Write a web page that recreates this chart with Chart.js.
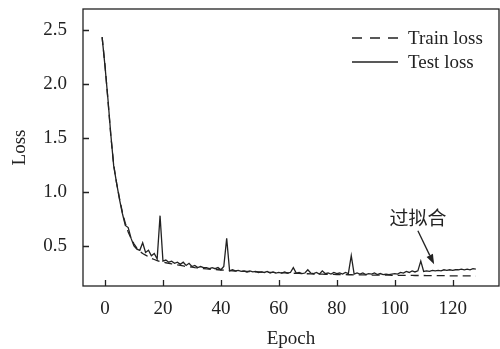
<!DOCTYPE html>
<html>
<head>
<meta charset="utf-8">
<script src="https://cdn.jsdelivr.net/npm/chart.js@4/dist/chart.umd.min.js"></script>
<style>
  html, body { margin: 0; padding: 0; background: #fff; }
</style>
</head>
<body>
<canvas id="lossChart" width="500" height="349"></canvas>
<script>
// Epochs run from -1 to 128 (first point sits just left of the 0 tick)
const firstEpoch = -1;

const trainLoss = [
  2.43, 2.17, 1.85, 1.52, 1.25, 1.08, 0.94, 0.81, 0.71, 0.63,
  0.57, 0.52, 0.48, 0.45, 0.43, 0.415, 0.40, 0.385, 0.375, 0.365,
  0.355, 0.35, 0.345, 0.34, 0.335, 0.33, 0.325, 0.32, 0.315, 0.31,
  0.307, 0.304, 0.30, 0.297, 0.294, 0.291, 0.288, 0.286, 0.284, 0.282,
  0.28, 0.278, 0.276, 0.274, 0.272, 0.27, 0.268, 0.267, 0.266, 0.265,
  0.264, 0.263, 0.262, 0.261, 0.26, 0.259, 0.258, 0.257, 0.256, 0.255,
  0.254, 0.253, 0.252, 0.251, 0.25, 0.249, 0.248, 0.247, 0.246, 0.245,
  0.244, 0.243, 0.242, 0.241, 0.24, 0.239, 0.239, 0.238, 0.238, 0.237,
  0.237, 0.236, 0.236, 0.235, 0.235, 0.234, 0.234, 0.233, 0.233, 0.233,
  0.232, 0.232, 0.232, 0.231, 0.231, 0.231, 0.23, 0.23, 0.23, 0.23,
  0.229, 0.229, 0.229, 0.229, 0.228, 0.228, 0.228, 0.228, 0.227, 0.227,
  0.227, 0.227, 0.226, 0.226, 0.226, 0.226, 0.225, 0.225, 0.225, 0.225,
  0.224, 0.224, 0.224, 0.224, 0.223, 0.223, 0.223, 0.223, 0.222, 0.222
];

const testLoss = [
  2.43, 2.16, 1.86, 1.53, 1.24, 1.08, 0.93, 0.80, 0.69, 0.67,
  0.57, 0.50, 0.47, 0.46, 0.53, 0.44, 0.46, 0.41, 0.43, 0.38,
  0.78, 0.36, 0.37, 0.35, 0.36, 0.34, 0.35, 0.33, 0.35, 0.32,
  0.34, 0.31, 0.32, 0.30, 0.31, 0.30, 0.30, 0.29, 0.30, 0.29,
  0.30, 0.28, 0.31, 0.57, 0.27, 0.28, 0.27, 0.275, 0.265, 0.27,
  0.26, 0.27, 0.26, 0.265, 0.255, 0.26, 0.255, 0.265, 0.25, 0.26,
  0.25, 0.255, 0.25, 0.26, 0.25, 0.255, 0.30, 0.25, 0.255, 0.245,
  0.25, 0.28, 0.25, 0.245, 0.255, 0.24, 0.27, 0.245, 0.25, 0.24,
  0.255, 0.245, 0.25, 0.24, 0.255, 0.245, 0.41, 0.24, 0.25, 0.24,
  0.25, 0.235, 0.245, 0.24, 0.25, 0.235, 0.245, 0.235, 0.24, 0.235,
  0.24, 0.245, 0.24, 0.255, 0.25, 0.265, 0.255, 0.27, 0.26, 0.27,
  0.36, 0.265, 0.27, 0.265, 0.275, 0.27, 0.275, 0.27, 0.28, 0.275,
  0.28, 0.275, 0.28, 0.28, 0.285, 0.28, 0.285, 0.28, 0.29, 0.285
];

const seriesLabels = ['Train loss', 'Test loss'];
const xTicks = [0, 20, 40, 60, 80, 100, 120];
const yTicks = [0.5, 1.0, 1.5, 2.0, 2.5];

// annotation: text position and arrow tail/tip, in data units
const noteText = '过拟合';
const notePos = [108, 0.76];
const arrowTail = [108, 0.64];
const arrowTip = [113.6, 0.33];

const ink = '#222';
const serif = "'Liberation Serif', 'Times New Roman', serif";

const toPoints = arr => arr.map((v, i) => ({ x: firstEpoch + i, y: v }));

const decorations = {
  id: 'decorations',
  afterDraw(chart) {
    const { ctx, chartArea: a, scales: { x, y } } = chart;
    ctx.save();
    ctx.strokeStyle = ink;
    ctx.lineWidth = 1.3;
    ctx.setLineDash([]);

    // box around the plot
    ctx.strokeRect(a.left, a.top, a.right - a.left, a.bottom - a.top);

    // inward tick marks
    ctx.beginPath();
    xTicks.forEach(v => {
      const px = Math.round(x.getPixelForValue(v)) + 0.5;
      ctx.moveTo(px, a.bottom);
      ctx.lineTo(px, a.bottom - 6);
    });
    yTicks.forEach(v => {
      const py = Math.round(y.getPixelForValue(v)) + 0.5;
      ctx.moveTo(a.left, py);
      ctx.lineTo(a.left + 6, py);
    });
    ctx.stroke();

    // legend (top right, inside the plot)
    ctx.font = '19px ' + serif;
    ctx.fillStyle = ink;
    ctx.textBaseline = 'middle';
    ctx.textAlign = 'left';
    chart.data.datasets.forEach((ds, i) => {
      const rowY = 38 + i * 24;
      ctx.beginPath();
      ctx.setLineDash(ds.borderDash && ds.borderDash.length ? [10, 8] : []);
      ctx.lineWidth = 1.3;
      ctx.moveTo(352, rowY);
      ctx.lineTo(398, rowY);
      ctx.stroke();
      ctx.setLineDash([]);
      ctx.fillText(ds.label, 408, rowY + 1);
    });

    // overfitting note with arrow
    ctx.font = "19px 'Noto Sans CJK SC', sans-serif";
    ctx.textAlign = 'center';
    ctx.fillText(noteText, x.getPixelForValue(notePos[0]), y.getPixelForValue(notePos[1]));

    const x0 = x.getPixelForValue(arrowTail[0]), y0 = y.getPixelForValue(arrowTail[1]);
    const x1 = x.getPixelForValue(arrowTip[0]), y1 = y.getPixelForValue(arrowTip[1]);
    const ang = Math.atan2(y1 - y0, x1 - x0);
    const headLen = 10, headW = 3.5;
    const bx = x1 - headLen * Math.cos(ang), by = y1 - headLen * Math.sin(ang);
    ctx.lineWidth = 1.3;
    ctx.beginPath();
    ctx.moveTo(x0, y0);
    ctx.lineTo(bx, by);
    ctx.stroke();
    ctx.beginPath();
    ctx.moveTo(x1, y1);
    ctx.lineTo(bx + headW * Math.sin(ang), by - headW * Math.cos(ang));
    ctx.lineTo(bx - headW * Math.sin(ang), by + headW * Math.cos(ang));
    ctx.closePath();
    ctx.fill();

    ctx.restore();
  }
};

const ctx = document.getElementById('lossChart').getContext('2d');
const lossChart = new Chart(ctx, {
  type: 'line',
  data: {
    datasets: [
      {
        label: seriesLabels[0],
        data: toPoints(trainLoss),
        borderColor: ink,
        borderWidth: 1.3,
        borderDash: [8, 5],
        pointRadius: 0,
        tension: 0,
        fill: false
      },
      {
        label: seriesLabels[1],
        data: toPoints(testLoss),
        borderColor: ink,
        borderWidth: 1.3,
        pointRadius: 0,
        tension: 0,
        fill: false
      }
    ]
  },
  options: {
    responsive: false,
    animation: false,
    devicePixelRatio: 1,
    layout: { padding: { left: 0, top: 9, right: 1, bottom: 0 } },
    plugins: {
      legend: { display: false },
      tooltip: { enabled: false }
    },
    scales: {
      x: {
        type: 'linear',
        min: -7.6,
        max: 136,
        afterBuildTicks: s => { s.ticks = xTicks.map(v => ({ value: v })); },
        afterFit: s => { s.height = 63; s.paddingLeft = 0; s.paddingRight = 0; },
        grid: { display: false, drawTicks: false },
        border: { display: false },
        ticks: {
          padding: 12,
          color: ink,
          font: { family: serif, size: 19 },
          maxRotation: 0
        },
        title: {
          display: true,
          text: 'Epoch',
          color: ink,
          font: { family: serif, size: 19, lineHeight: 1 },
          padding: { top: 0, bottom: 0 }
        }
      },
      y: {
        type: 'linear',
        min: 0.13,
        max: 2.69,
        afterBuildTicks: s => { s.ticks = yTicks.map(v => ({ value: v })); },
        afterFit: s => { s.width = 83; s.paddingTop = 0; s.paddingBottom = 0; },
        grid: { display: false, drawTicks: false },
        border: { display: false },
        ticks: {
          padding: 16,
          color: ink,
          font: { family: serif, size: 19 },
          callback: v => v.toFixed(1)
        },
        title: {
          display: true,
          text: 'Loss',
          color: ink,
          font: { family: serif, size: 19, lineHeight: 1 },
          padding: { top: 11, bottom: 0 }
        }
      }
    }
  },
  plugins: [decorations]
});
</script>
</body>
</html>
